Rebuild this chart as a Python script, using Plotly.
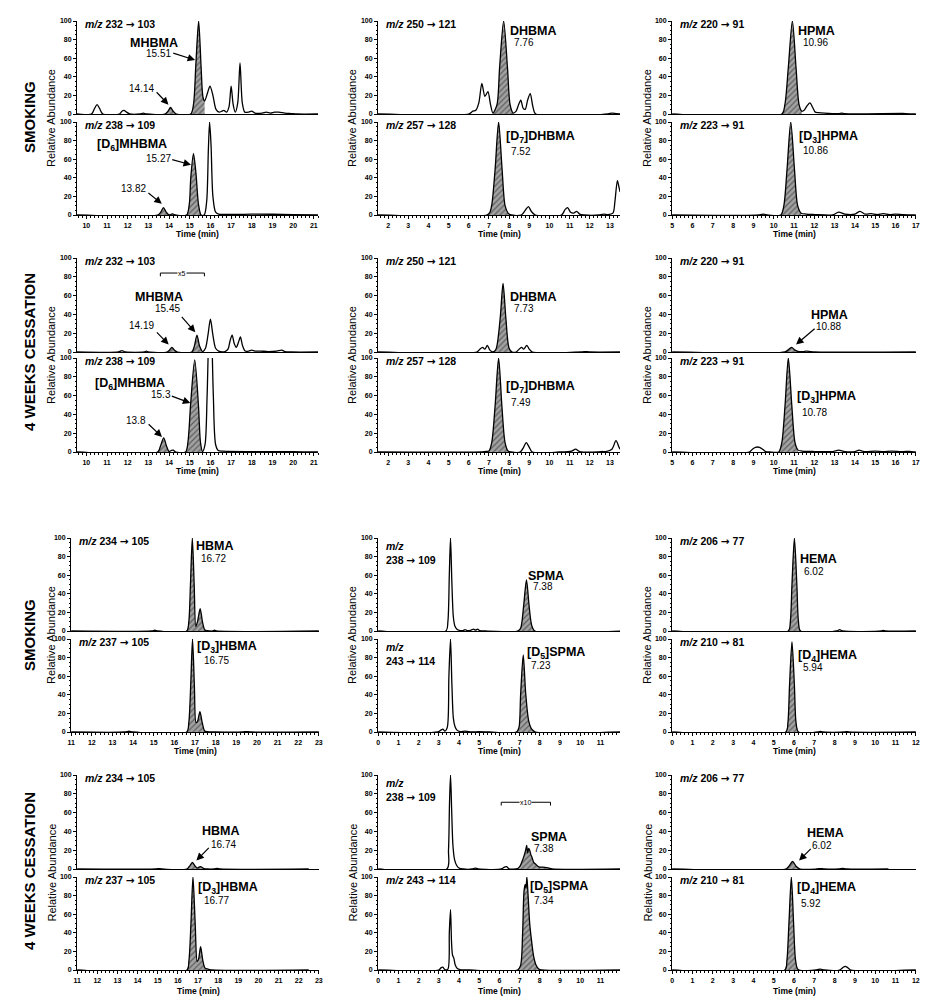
import plotly.graph_objects as go

# ======================= DATA =======================
# --- Group 1: SMOKING (MHBMA / DHBMA / HPMA) ---
smk_232_t = [9.55, 10.25, 10.4, 10.52, 10.64, 10.8, 11.6, 11.72, 11.82, 11.95, 12.1, 12.6, 12.75, 12.9,
             13.8, 13.95, 14.07, 14.2, 14.35, 15.05, 15.18, 15.3, 15.43, 15.55, 15.64, 15.72, 15.85, 15.98,
             16.12, 16.27, 16.42, 16.55, 16.65, 16.78, 16.9, 17.0, 17.1, 17.2, 17.32, 17.43, 17.54, 17.66,
             17.85, 18.0, 18.15, 18.5, 18.7, 18.9, 19.1, 19.3, 19.6, 19.9, 20.2, 21.2]
smk_232_y = [0, 0, 6, 10, 6, 0, 0, 3, 4, 2, 0, 0, 1, 0,
             0, 3, 7, 3, 0, 0, 10, 55, 100, 50, 18, 14, 22, 30,
             20, 5, 2, 3, 4, 2, 8, 30, 10, 2, 12, 55, 12, 2,
             2, 3, 1, 1, 2, 1, 2, 2, 1, 0.5, 0, 0]
smk_232_fill = [(13.8, 14.35), (15.05, 15.72)]

smk_238_t = [9.55, 13.45, 13.6, 13.73, 13.86, 14.0, 14.12, 14.2, 14.3, 14.85, 14.98, 15.05, 15.18, 15.3,
             15.42, 15.55, 15.7, 15.82, 15.9, 15.96, 16.03, 16.12, 16.25, 16.4, 18.0, 20.0, 21.2]
smk_238_y = [0, 0, 3, 8, 3, 0, 1, 1, 0, 0, 12, 40, 66, 45,
             12, 0, 0, 15, 70, 100, 75, 20, 3, 1, 1, 0.5, 0]
smk_238_fill = [(13.45, 14.0), (14.85, 15.55)]

smk_250_t = [1.5, 6.0, 6.2, 6.35, 6.5, 6.65, 6.8, 6.95, 7.08, 7.2, 7.4, 7.53, 7.73, 7.92, 8.05, 8.2,
             8.35, 8.47, 8.58, 8.7, 8.8, 8.92, 9.05, 9.18, 9.32, 12.9, 13.1, 13.3, 13.5]
smk_250_y = [0, 0, 3, 4, 12, 33, 19, 24, 10, 1, 10, 50, 100, 50, 10, 1,
             3, 10, 15, 6, 5, 15, 22, 8, 0, 0, 1, 0.5, 0]
smk_250_fill = [(7.2, 8.2)]

smk_257_t = [1.5, 6.9, 7.05, 7.15, 7.31, 7.48, 7.65, 7.8, 7.95, 8.1, 8.6, 8.8, 8.96, 9.1, 9.3,
             10.6, 10.78, 10.9, 11.05, 11.2, 11.35, 11.5, 11.7, 12.5, 12.7, 12.9, 13.15, 13.25, 13.37, 13.45, 13.5]
smk_257_y = [0, 0, 3, 12, 50, 100, 50, 10, 2, 0, 0, 5, 9, 4, 0,
             0, 6, 8, 3, 2, 4, 1, 0, 0, 1, 0.5, 2, 15, 37, 30, 25]
smk_257_fill = [(6.9, 8.1)]

smk_220_t = [5, 10.4, 10.55, 10.72, 10.92, 11.1, 11.25, 11.38, 11.5, 11.65, 11.79, 11.92, 12.05, 12.2,
             12.5, 13.2, 13.35, 13.5, 16.5, 17]
smk_220_y = [0, 0, 10, 50, 100, 50, 10, 3, 4, 9, 12, 7, 2, 1.5, 1, 0.5, 1, 0.3, 0.5, 0]
smk_220_fill = [(10.4, 11.38)]

smk_223_t = [5, 9.3, 9.5, 9.7, 10.35, 10.5, 10.66, 10.84, 11.02, 11.18, 11.35, 11.6, 12.0, 12.9, 13.2,
             13.5, 14.0, 14.25, 14.5, 14.8, 15.1, 15.4, 15.7, 16.0, 16.4, 17]
smk_223_y = [0, 0, 1, 0, 0, 10, 50, 100, 50, 10, 2, 1, 0.5, 0, 3,
             1, 1, 4, 1, 1.5, 0.5, 1.5, 0.5, 1, 0.3, 0]
smk_223_fill = [(10.35, 11.35)]

# --- Group 2: 4 WEEKS CESSATION (MHBMA / DHBMA / HPMA) ---
ces_232_t = [9.55, 11.55, 11.72, 11.9, 12.8, 12.9, 13.0, 13.9, 14.02, 14.14, 14.26, 14.4, 15.1, 15.22,
             15.35, 15.48, 15.62, 15.76, 15.88, 16.0, 16.12, 16.25, 16.4, 16.7, 16.85, 16.95, 17.05,
             17.15, 17.25, 17.35, 17.45, 17.55, 17.68, 17.85, 18.0, 18.15, 18.4, 18.8, 19.2, 19.45,
             19.6, 19.9, 21.2]
ces_232_y = [0, 0, 1.5, 0, 0, 1, 0, 0, 2, 5, 2, 0, 0, 6,
             18, 6, 0.5, 4, 18, 35, 18, 4, 1, 0.5, 3, 12, 18,
             9, 5, 10, 16, 7, 1, 1, 2, 1, 1, 0.5, 1, 2,
             0.5, 0, 0]
ces_232_fill = [(13.9, 14.4), (15.1, 15.62)]

ces_238_t = [9.55, 13.45, 13.58, 13.74, 13.88, 14.0, 14.1, 14.2, 14.32, 14.8, 14.92, 15.04, 15.24,
             15.42, 15.52, 15.62, 15.74, 15.84, 15.99, 16.14, 16.25, 16.38, 16.6, 18.0, 20.0, 21.2]
ces_238_y = [0, 0, 6, 15, 6, 0.5, 1.5, 2, 0, 0, 12, 50, 98,
             50, 10, 0.5, 8, 60, 180, 60, 8, 1.5, 1, 0.5, 0.5, 0]
ces_238_fill = [(13.45, 14.0), (14.8, 15.62)]

ces_250_t = [1.5, 6.4, 6.55, 6.68, 6.8, 6.92, 7.05, 7.2, 7.35, 7.56, 7.7, 7.84, 8.0, 8.15, 8.35, 8.5,
             8.62, 8.72, 8.88, 9.0, 9.15, 11.6, 11.8, 12.0, 13.5]
ces_250_y = [0, 0, 3, 5, 3, 7, 2, 0, 3, 36, 73, 36, 4, 0, 0, 3,
             5, 3, 7, 3, 0, 0, 0.5, 0, 0]
ces_250_fill = [(7.2, 8.15)]

ces_257_t = [1.5, 6.6, 6.8, 7.0, 7.14, 7.31, 7.48, 7.64, 7.8, 7.95, 8.1, 8.55, 8.72, 8.85, 9.0, 9.15,
             10.5, 11.1, 11.3, 11.5, 12.4, 12.6, 12.8, 13.1, 13.3, 13.45, 13.5]
ces_257_y = [0, 0, 0.5, 1, 10, 50, 100, 50, 10, 1, 0, 0, 5, 10, 5, 0,
             0, 1, 3, 0.5, 0, 0.5, 0.5, 3, 12, 5, 3]
ces_257_fill = [(7.0, 7.95)]

ces_220_t = [5, 10.55, 10.7, 10.88, 11.05, 11.25, 11.45, 11.62, 11.8, 12.0, 17]
ces_220_y = [0, 0, 2, 5, 2, 0.3, 0.5, 1, 0.5, 0, 0]
ces_220_fill = [(10.55, 11.25)]

ces_223_t = [5, 8.8, 8.95, 9.1, 9.3, 9.45, 9.6, 9.8, 10.25, 10.4, 10.56, 10.72, 10.89, 11.05, 11.2,
             11.4, 12.0, 12.9, 13.2, 13.5, 14.0, 14.2, 14.45, 15.0, 15.4, 15.8, 16.3, 16.8, 17]
ces_223_y = [0, 0, 3, 5, 5, 3, 0.5, 0, 0, 10, 50, 100, 50, 10, 2,
             1, 0.5, 0.5, 2, 0.5, 0.5, 2, 0.5, 1, 0.5, 1, 0.5, 0.5, 0]
ces_223_fill = [(10.25, 11.2)]

# --- Group 3: SMOKING (HBMA / SPMA / HEMA) ---
smk2_234_t = [11, 14.9, 15.05, 15.2, 16.6, 16.7, 16.78, 16.87, 16.96, 17.04, 17.12, 17.25, 17.36,
              17.48, 17.6, 17.85, 17.95, 18.05, 23]
smk2_234_y = [0, 0, 0.8, 0, 0, 10, 50, 100, 50, 5, 10, 24, 10, 1, 0.3, 0, 0.8, 0, 0]
smk2_234_fill = [(16.6, 17.6)]

smk2_237_t = [11, 13.6, 13.8, 14.0, 16.6, 16.7, 16.8, 16.88, 16.97, 17.05, 17.13, 17.24, 17.35,
              17.47, 17.6, 18, 19.3, 19.5, 19.7, 23]
smk2_237_y = [0, 0, 0.8, 0, 0, 10, 55, 100, 50, 10, 12, 22, 10, 1, 0.3, 0, 0, 0.5, 0, 0]
smk2_237_fill = [(16.6, 17.6)]

smk2_238_t = [0, 3.35, 3.45, 3.52, 3.58, 3.65, 3.72, 3.8, 3.9, 4.05, 4.2, 4.3, 4.4, 4.6, 4.72, 4.82,
              4.92, 5.02, 5.3, 6.9, 7.05, 7.2, 7.34, 7.47, 7.6, 7.75, 12]
smk2_238_y = [0, 0, 10, 60, 100, 50, 15, 5, 2, 0.5, 0.5, 1.5, 0.5, 1, 2, 1,
              2, 0.5, 0, 0, 3, 27, 55, 27, 6, 0, 0]
smk2_238_fill = [(6.9, 7.75)]

smk2_243_t = [0, 2.95, 3.1, 3.2, 3.3, 3.42, 3.5, 3.58, 3.65, 3.72, 3.8, 3.9, 4.05, 4.3, 4.45, 4.6,
              5.0, 5.5, 6.85, 6.97, 7.05, 7.18, 7.3, 7.45, 7.6, 7.78, 12]
smk2_243_y = [0, 0, 2, 3, 1, 5, 60, 100, 50, 15, 6, 2, 0.5, 1, 0.5, 0,
              0.3, 0, 0, 5, 40, 83, 42, 12, 3, 0, 0]
smk2_243_fill = [(6.85, 7.78)]

smk2_206_t = [0, 5.72, 5.82, 5.9, 6.02, 6.14, 6.22, 6.32, 8.1, 8.25, 8.4, 10.3, 10.4, 10.5, 12]
smk2_206_y = [0, 0, 10, 50, 100, 50, 10, 0, 0, 1.5, 0, 0, 0.7, 0, 0]
smk2_206_fill = [(5.72, 6.32)]

smk2_210_t = [0, 5.6, 5.7, 5.78, 5.9, 6.02, 6.1, 6.22, 7.2, 7.3, 7.4, 8.5, 8.6, 8.7, 12]
smk2_210_y = [0, 0, 10, 50, 97, 50, 10, 0, 0, 0.7, 0, 0, 0.5, 0, 0]
smk2_210_fill = [(5.6, 6.22)]

# --- Group 4: 4 WEEKS CESSATION (HBMA / SPMA / HEMA) ---
ces2_234_t = [11, 14.9, 15.05, 15.2, 16.45, 16.58, 16.72, 16.86, 16.95, 17.12, 17.3, 17.45, 17.8,
              17.95, 18.1, 22.5]
ces2_234_y = [0, 0, 0.5, 0, 0, 3, 7, 3, 1, 2.5, 0.5, 0, 0, 0.7, 0, 0]
ces2_234_fill = [(16.45, 17.45)]

ces2_237_t = [11, 16.45, 16.55, 16.65, 16.75, 16.86, 16.96, 17.03, 17.13, 17.24, 17.35, 17.5, 17.7, 22.5]
ces2_237_y = [0, 0, 10, 50, 100, 50, 9, 12, 25, 10, 2, 1, 0, 0]
ces2_237_fill = [(16.45, 17.7)]

ces2_238_t = [0, 3.4, 3.48, 3.53, 3.58, 3.64, 3.7, 3.78, 3.88, 4.0, 4.2, 4.65, 4.8, 4.95, 6.1, 6.25,
              6.35, 6.5, 6.9, 7.02, 7.12, 7.22, 7.3, 7.35, 7.4, 7.45, 7.5, 7.56, 7.62, 7.7, 7.8, 7.9,
              8.0, 8.15, 8.3, 8.45, 8.6, 12]
ces2_238_y = [0, 0, 20, 70, 100, 60, 25, 10, 4, 1, 0, 0, 1, 0, 0, 2,
              2.5, 0, 0.5, 3, 8, 14, 20, 25, 17, 22, 20, 15, 12, 7, 5, 3,
              2, 2, 1.5, 1, 0, 0]
ces2_238_fill = [(6.9, 8.6)]

ces2_243_t = [0, 3.0, 3.12, 3.2, 3.3, 3.45, 3.52, 3.58, 3.63, 3.68, 3.74, 3.82, 3.92, 4.05, 4.5,
              6.9, 7.05, 7.15, 7.22, 7.28, 7.32, 7.36, 7.42, 7.5, 7.6, 7.7, 7.8, 7.95, 8.1, 12]
ces2_243_y = [0, 0, 2.5, 3, 0.5, 1, 40, 65, 30, 16, 13, 5, 1.5, 0.5, 0,
              0, 5, 40, 85, 92, 88, 100, 80, 50, 30, 14, 6, 1, 0, 0]
ces2_243_fill = [(6.9, 8.1)]

ces2_206_t = [0, 5.6, 5.75, 5.93, 6.1, 6.3, 7.1, 7.3, 7.5, 8.2, 8.4, 8.6, 10.65]
ces2_206_y = [0, 0, 3, 8, 3, 0, 0, 0.5, 0, 0, 0.6, 0, 0]
ces2_206_fill = [(5.6, 6.3)]

ces2_210_t = [0, 5.55, 5.65, 5.75, 5.87, 5.98, 6.08, 6.2, 7.1, 7.3, 7.5, 8.25, 8.4, 8.52, 8.65, 8.8, 12]
ces2_210_y = [0, 0, 10, 50, 100, 50, 10, 0.5, 0, 1, 0, 0, 2.5, 4, 2.5, 0, 0]
ces2_210_fill = [(5.55, 6.2)]

# transitions (m/z labels), per panel index 1..24
transitions = [("232", "103"), ("238", "109"), ("250", "121"), ("257", "128"), ("220", "91"), ("223", "91"),
               ("232", "103"), ("238", "109"), ("250", "121"), ("257", "128"), ("220", "91"), ("223", "91"),
               ("234", "105"), ("237", "105"), ("238", "109"), ("243", "114"), ("206", "77"), ("210", "81"),
               ("234", "105"), ("237", "105"), ("238", "109"), ("243", "114"), ("206", "77"), ("210", "81")]
two_line_mz = {15, 16, 21}

group_labels = ["SMOKING", "4 WEEKS CESSATION", "SMOKING", "4 WEEKS CESSATION"]

# ======================= LAYOUT / STYLE =======================
W, H = 927, 1008
FONT = "Liberation Sans, Arial, sans-serif"
ARROW = "<span style='font-family:DejaVu Sans'>→</span>"

series = [
    (smk_232_t, smk_232_y, smk_232_fill), (smk_238_t, smk_238_y, smk_238_fill),
    (smk_250_t, smk_250_y, smk_250_fill), (smk_257_t, smk_257_y, smk_257_fill),
    (smk_220_t, smk_220_y, smk_220_fill), (smk_223_t, smk_223_y, smk_223_fill),
    (ces_232_t, ces_232_y, ces_232_fill), (ces_238_t, ces_238_y, ces_238_fill),
    (ces_250_t, ces_250_y, ces_250_fill), (ces_257_t, ces_257_y, ces_257_fill),
    (ces_220_t, ces_220_y, ces_220_fill), (ces_223_t, ces_223_y, ces_223_fill),
    (smk2_234_t, smk2_234_y, smk2_234_fill), (smk2_237_t, smk2_237_y, smk2_237_fill),
    (smk2_238_t, smk2_238_y, smk2_238_fill), (smk2_243_t, smk2_243_y, smk2_243_fill),
    (smk2_206_t, smk2_206_y, smk2_206_fill), (smk2_210_t, smk2_210_y, smk2_210_fill),
    (ces2_234_t, ces2_234_y, ces2_234_fill), (ces2_237_t, ces2_237_y, ces2_237_fill),
    (ces2_238_t, ces2_238_y, ces2_238_fill), (ces2_243_t, ces2_243_y, ces2_243_fill),
    (ces2_206_t, ces2_206_y, ces2_206_fill), (ces2_210_t, ces2_210_y, ces2_210_fill),
]
for k, (t, y, _) in enumerate(series):
    if len(t) != len(y):
        raise ValueError(f"series {k+1}: {len(t)} vs {len(y)}")

col_px = {(0, 0): (77, 318), (1, 0): (77, 318), (2, 0): (71, 319), (3, 0): (77, 319)}
for g in range(4):
    col_px[(g, 1)] = (378, 620)
    col_px[(g, 2)] = (672, 916)
xranges = {(0, 0): [9.55, 21.2], (1, 0): [9.55, 21.2], (2, 0): [10.99, 23.01], (3, 0): [10.99, 23.01],
           (0, 1): [1.5, 13.5], (1, 1): [1.5, 13.5], (2, 1): [-0.01, 11.97], (3, 1): [-0.01, 11.97],
           (0, 2): [4.99, 17.01], (1, 2): [4.99, 17.01], (2, 2): [-0.01, 12.01], (3, 2): [-0.01, 12.01]}
row_px = {(0, 0): (21, 114), (0, 1): (122, 215),
          (1, 0): (258, 352), (1, 1): (358, 452),
          (2, 0): (538, 631), (2, 1): (639, 732),
          (3, 0): (775, 869), (3, 1): (877, 970)}
col_label_x = [51, 352, 647]
group_label_y = [117, 352, 635, 871]
time_label_y = [234, 471, 751, 991]


def axn(i):
    return "" if i == 1 else str(i)


fig = go.Figure()
layout = dict(width=W, height=H, margin=dict(l=0, r=0, t=0, b=0, pad=0, autoexpand=False),
              showlegend=False, template="none",
              paper_bgcolor="white", plot_bgcolor="white", font=dict(family=FONT, color="black"))

tickfont = dict(family=FONT, size=7, color="black", weight="bold")
for g in range(4):
    for c in range(3):
        for p in range(2):
            i = g * 6 + c * 2 + p + 1
            l, r = col_px[(g, c)]
            top, bot = row_px[(g, p)]
            xa = dict(domain=[l / W, r / W], range=xranges[(g, c)], anchor="y" + axn(i),
                      showgrid=False, zeroline=False, showline=True, linecolor="black",
                      linewidth=1.3, fixedrange=True, automargin=False)
            if p == 1:
                xa.update(ticks="outside", ticklen=3, tickwidth=1, tickcolor="black", dtick=1, tick0=0,
                          showticklabels=True, tickfont=tickfont,
                          minor=dict(ticks="outside", ticklen=2, dtick=0.2, tick0=0,
                                     tickcolor="black", tickwidth=0.8))
            else:
                xa.update(ticks="", showticklabels=False)
            ya = dict(domain=[1 - bot / H, 1 - top / H], range=[0, 100], anchor="x" + axn(i),
                      showgrid=False, zeroline=False, showline=True, linecolor="black", linewidth=1,
                      ticks="outside", ticklen=3, tickwidth=1, tickcolor="black", dtick=20, tick0=0,
                      tickfont=tickfont, fixedrange=True, automargin=False,
                      minor=dict(ticks="outside", ticklen=1.5, dtick=5, tick0=0,
                                 tickcolor="black", tickwidth=0.7))
            layout["xaxis" + axn(i)] = xa
            layout["yaxis" + axn(i)] = ya

fig.update_layout(**layout)

# ---- traces ----
for k, (t, y, fills) in enumerate(series):
    i = k + 1
    xr, yr = "x" + axn(i), "y" + axn(i)
    for (a, b) in fills:
        ft = [tt for tt in t if a <= tt <= b]
        fy = [yy for tt, yy in zip(t, y) if a <= tt <= b]
        fig.add_trace(go.Scatter(x=ft, y=fy, xaxis=xr, yaxis=yr, mode="lines",
                                 line=dict(width=0, shape="spline", smoothing=0.8, color="rgba(0,0,0,0)"),
                                 fill="tozeroy", fillcolor="#a0a0a0",
                                 fillpattern=dict(shape="/", fgcolor="#5e5e5e", bgcolor="#a2a2a2",
                                                  size=4, solidity=0.3),
                                 hoverinfo="skip"))
    fig.add_trace(go.Scatter(x=t, y=y, xaxis=xr, yaxis=yr, mode="lines",
                             line=dict(color="black", width=1.3, shape="spline", smoothing=0.8),
                             hoverinfo="skip"))

# ---- annotations ----
ann = []
shapes = []


def txt(i, x, y, text, size, **kw):
    d = dict(x=x, y=y, xref="x" + axn(i), yref="y" + axn(i), text=text, showarrow=False,
             font=dict(family=FONT, size=size, color="black"), xanchor="center", yanchor="middle")
    d.update(kw)
    ann.append(d)


def arrow(i, x0, y0, x1, y1):
    ann.append(dict(x=x1, y=y1, ax=x0, ay=y0, xref="x" + axn(i), yref="y" + axn(i),
                    axref="x" + axn(i), ayref="y" + axn(i), text="", showarrow=True,
                    arrowhead=2, arrowsize=1.25, arrowwidth=1.2, arrowcolor="black", standoff=0))


def bracket(i, x0, x1, y, label):
    shapes.append(dict(type="path", xref="x" + axn(i), yref="y" + axn(i),
                       path=f"M {x0},{y - 3.5} L {x0},{y} L {x1},{y} L {x1},{y - 3.5}",
                       line=dict(color="black", width=1)))
    ann.append(dict(x=(x0 + x1) / 2, y=y, xref="x" + axn(i), yref="y" + axn(i), text=label,
                    showarrow=False, bgcolor="white", borderpad=0,
                    font=dict(family=FONT, size=7, color="black"), xanchor="center", yanchor="middle"))


def B(s):
    return "<b>" + s + "</b>"


# m/z labels
for k, (pre, prod) in enumerate(transitions):
    i = k + 1
    tr = pre + " " + ARROW + " " + prod
    if i in two_line_mz:
        text = "<b><i>m/z</i></b><br><b>" + tr + "</b>"
        ann.append(dict(x=0.025, y=100, xref="x" + axn(i) + " domain", yref="y" + axn(i),
                        text=text, showarrow=False, align="left",
                        font=dict(family=FONT, size=10.5, color="black"),
                        xanchor="left", yanchor="top"))
    else:
        text = "<b><i>m/z</i> " + tr + "</b>"
        ann.append(dict(x=0.025, y=97, xref="x" + axn(i) + " domain", yref="y" + axn(i),
                        text=text, showarrow=False, font=dict(family=FONT, size=10.5, color="black"),
                        xanchor="left", yanchor="middle"))

NS, VS = 12.5, 10  # name size, value size
# Group 1
txt(1, 13.25, 76, B("MHBMA"), NS); txt(1, 13.49, 65, "15.51", VS); txt(1, 12.65, 27, "14.14", VS)
arrow(1, 14.13, 66, 15.26, 58); arrow(1, 13.33, 25, 13.97, 10)
txt(2, 12.23, 75, B("[D<sub>6</sub>]MHBMA"), NS); txt(2, 13.47, 61, "15.27", VS); txt(2, 12.3, 29, "13.82", VS)
arrow(2, 14.08, 60, 15.06, 54); arrow(2, 12.93, 25, 13.65, 12)
txt(3, 9.21, 89, B("DHBMA"), NS); txt(3, 8.75, 77, "7.76", VS)
txt(4, 9.54, 84, B("[D<sub>7</sub>]DHBMA"), NS); txt(4, 8.57, 68, "7.52", VS)
txt(5, 12.13, 89, B("HPMA"), NS); txt(5, 12.07, 77, "10.96", VS)
txt(6, 12.68, 84, B("[D<sub>3</sub>]HPMA"), NS); txt(6, 12.07, 69, "10.86", VS)
# Group 2
txt(7, 13.5, 58, B("MHBMA"), NS); txt(7, 13.94, 46, "15.45", VS); txt(7, 12.66, 28, "14.19", VS)
arrow(7, 14.55, 39, 15.27, 21); arrow(7, 13.34, 22.5, 13.98, 8)
bracket(7, 13.58, 15.71, 84, "x5")
txt(8, 12.13, 72, B("[D<sub>6</sub>]MHBMA"), NS); txt(8, 13.6, 61, "15.3", VS); txt(8, 12.4, 34, "13.8", VS)
arrow(8, 14.06, 60, 15.03, 52); arrow(8, 12.94, 31, 13.66, 16)
txt(9, 9.21, 58, B("DHBMA"), NS); txt(9, 8.75, 46, "7.73", VS)
txt(10, 9.54, 69, B("[D<sub>7</sub>]DHBMA"), NS); txt(10, 8.57, 53, "7.49", VS)
txt(11, 12.73, 39, B("HPMA"), NS); txt(11, 12.71, 27, "10.88", VS)
arrow(11, 12.09, 26, 11.1, 8)
txt(12, 12.58, 59, B("[D<sub>3</sub>]HPMA"), NS); txt(12, 12.0, 42, "10.78", VS)
# Group 3
txt(13, 17.96, 91, B("HBMA"), NS); txt(13, 17.88, 78, "16.72", VS)
txt(14, 18.54, 91, B("[D<sub>3</sub>]HBMA"), NS); txt(14, 18.02, 77, "16.75", VS)
txt(15, 8.31, 59, B("SPMA"), NS); txt(15, 8.16, 48, "7.38", VS)
txt(16, 8.82, 85, B("[D<sub>5</sub>]SPMA"), NS); txt(16, 8.08, 71, "7.23", VS)
txt(17, 7.22, 77, B("HEMA"), NS); txt(17, 6.97, 64, "6.02", VS)
txt(18, 7.66, 82, B("[D<sub>4</sub>]HEMA"), NS); txt(18, 6.92, 69, "5.94", VS)
# Group 4
txt(19, 18.16, 40, B("HBMA"), NS); txt(19, 18.26, 26, "16.74", VS)
arrow(19, 17.61, 24, 16.92, 9)
txt(20, 18.5, 88, B("[D<sub>3</sub>]HBMA"), NS); txt(20, 17.91, 75, "16.77", VS)
txt(21, 8.44, 34, B("SPMA"), NS); txt(21, 8.23, 22, "7.38", VS)
bracket(21, 6.09, 8.53, 71, "x10")
txt(22, 8.95, 89, B("[D<sub>5</sub>]SPMA"), NS); txt(22, 8.23, 75, "7.34", VS)
txt(23, 7.53, 38, B("HEMA"), NS); txt(23, 7.36, 25, "6.02", VS)
arrow(23, 6.9, 23, 6.25, 9)
txt(24, 7.58, 88, B("[D<sub>4</sub>]HEMA"), NS); txt(24, 6.86, 72, "5.92", VS)

# paper-level labels
for g in range(4):
    ann.append(dict(x=29 / W, y=1 - group_label_y[g] / H, xref="paper", yref="paper",
                    text=B(group_labels[g]), textangle=-90, showarrow=False,
                    font=dict(family=FONT, size=15, color="black"), xanchor="center", yanchor="middle"))
    top = row_px[(g, 0)][0]
    bot = row_px[(g, 1)][1]
    for c in range(3):
        ann.append(dict(x=col_label_x[c] / W, y=1 - (top + bot) / 2 / H, xref="paper", yref="paper",
                        text="Relative Abundance", textangle=-90, showarrow=False,
                        font=dict(family=FONT, size=11, color="black"),
                        xanchor="center", yanchor="middle"))
        l, r = col_px[(g, c)]
        ann.append(dict(x=(l + r) / 2 / W, y=1 - time_label_y[g] / H, xref="paper", yref="paper",
                        text=B("Time (min)"), showarrow=False,
                        font=dict(family=FONT, size=8.5, color="black"),
                        xanchor="center", yanchor="middle"))

fig.update_layout(annotations=ann, shapes=shapes)
fig.write_html("out.html", config={"displayModeBar": False},
               post_script="document.body.style.margin='0px';document.body.style.overflow='hidden';")
